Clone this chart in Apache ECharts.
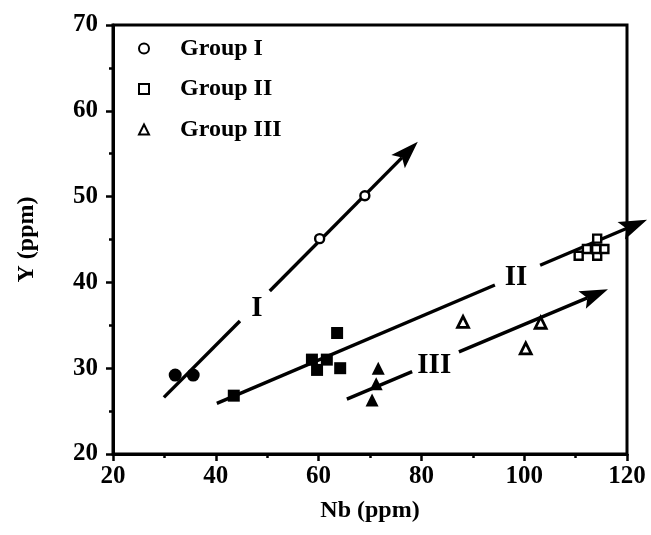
<!DOCTYPE html>
<html>
<head>
<meta charset="utf-8">
<script src="https://cdn.jsdelivr.net/npm/echarts@6/dist/echarts.min.js"></script>
<style>html,body{margin:0;padding:0;background:#fff}#c{width:651px;height:535px}</style>
</head>
<body>
<div id="c"></div>
<script>
// ---- data ----
const xTicks = [20, 40, 60, 80, 100, 120];
const yTicks = [20, 30, 40, 50, 60, 70];

const groupIOpenX = [60.2, 69.0];
const groupIOpenY = [45.1, 50.1];
const groupIFilledX = [32.1, 35.6];
const groupIFilledY = [29.2, 29.2];

const groupIIOpenX = [110.6, 112.2, 114.2, 114.2, 115.6, 114.0];
const groupIIOpenY = [43.1, 43.9, 45.1, 43.1, 43.9, 43.9];
const groupIIFilledX = [43.5, 58.7, 59.7, 61.6, 64.2, 63.6];
const groupIIFilledY = [26.8, 31.0, 29.8, 31.0, 30.0, 34.1];

const groupIIIOpenX = [88.1, 100.3, 103.2];
const groupIIIOpenY = [35.4, 32.3, 35.3];
const groupIIIFilledX = [71.6, 71.2, 70.4];
const groupIIIFilledY = [30.0, 28.2, 26.3];

// trend arrows: [x0,y0, x1,y1 (end of first segment), x2,y2 (start of second segment), x3,y3 (arrow tip)]
const trendI   = [29.9, 26.6, 44.7, 35.5, 50.5, 39.0, 79.3, 56.4];
const trendII  = [40.2, 25.9, 94.3, 39.7, 103.1, 42.0, 123.9, 47.3];
const trendIII = [65.5, 26.4, 78.2, 29.6, 87.3, 31.9, 116.3, 39.2];

const numeralText = ['I', 'II', 'III'];
const numeralX = [48.0, 98.4, 82.5];
const numeralY = [37.0, 40.6, 30.3];

// ---- chart ----
const FONT = 'Liberation Serif';
const zip = (xs, ys) => xs.map((x, i) => [x, ys[i]]);

const chart = echarts.init(document.getElementById('c'), null, {renderer: 'canvas'});

function renderTrend(params, api) {
  const p = [];
  for (let i = 0; i < 4; i++) p.push(api.coord([api.value(2 * i), api.value(2 * i + 1)]));
  const tip = p[3];
  const dx = tip[0] - p[2][0], dy = tip[1] - p[2][1];
  const len = Math.hypot(dx, dy);
  const ux = dx / len, uy = dy / len;
  const L = 28, W = 9.5;
  const base = [tip[0] - ux * L, tip[1] - uy * L];
  const notch = [tip[0] - ux * L * 0.8, tip[1] - uy * L * 0.8];
  const left = [base[0] - uy * W, base[1] + ux * W];
  const right = [base[0] + uy * W, base[1] - ux * W];
  const st = {stroke: '#000', lineWidth: 3.4};
  return {
    type: 'group',
    children: [
      {type: 'line', shape: {x1: p[0][0], y1: p[0][1], x2: p[1][0], y2: p[1][1]}, style: st},
      {type: 'line', shape: {x1: p[2][0], y1: p[2][1], x2: notch[0], y2: notch[1]}, style: st},
      {type: 'polygon', shape: {points: [tip, left, notch, right]}, style: {fill: '#000'}}
    ]
  };
}

const openStyle = {color: '#fff', borderColor: '#000', borderWidth: 2.4, opacity: 1};
const filledStyle = {color: '#000', borderColor: '#000', borderWidth: 0, opacity: 1};

const option = {
  animation: false,
  backgroundColor: '#fff',
  textStyle: {fontFamily: FONT, color: '#000'},
  grid: {left: 113, right: 24, top: 25, bottom: 81, show: true, borderColor: '#000', borderWidth: 3, backgroundColor: 'transparent'},
  legend: {
    orient: 'vertical', left: 138, top: 36, padding: 0,
    itemWidth: 10, itemHeight: 10, itemGap: 15.5,
    data: ['Group I', 'Group II', 'Group III'],
    textStyle: {fontFamily: FONT, fontSize: 24, fontWeight: 'bold', color: '#000', lineHeight: 25, padding: [0, 0, 0, 26]},
    selectedMode: false
  },
  xAxis: {
    type: 'value', min: xTicks[0], max: xTicks[xTicks.length - 1], interval: 20,
    name: 'Nb (ppm)', nameLocation: 'middle', nameGap: 45,
    nameTextStyle: {fontFamily: FONT, fontSize: 24, fontWeight: 'bold', color: '#000'},
    axisLine: {lineStyle: {color: '#000', width: 3}},
    axisTick: {length: 7, lineStyle: {color: '#000', width: 2.5}},
    minorTick: {show: true, splitNumber: 2, length: 4, lineStyle: {color: '#000', width: 2.5}},
    axisLabel: {fontFamily: FONT, fontSize: 25, fontWeight: 'bold', color: '#000', margin: 10},
    splitLine: {show: false}
  },
  yAxis: {
    type: 'value', min: yTicks[0], max: yTicks[yTicks.length - 1], interval: 10,
    name: 'Y (ppm)', nameLocation: 'middle', nameGap: 74,
    nameTextStyle: {fontFamily: FONT, fontSize: 24, fontWeight: 'bold', color: '#000'},
    axisLine: {lineStyle: {color: '#000', width: 3}},
    axisTick: {length: 7, lineStyle: {color: '#000', width: 2.5}},
    minorTick: {show: true, splitNumber: 2, length: 4, lineStyle: {color: '#000', width: 2.5}},
    axisLabel: {fontFamily: FONT, fontSize: 25, fontWeight: 'bold', color: '#000', margin: 15},
    splitLine: {show: false}
  },
  series: [
    {
      name: 'trends', type: 'custom', renderItem: renderTrend, silent: true, z: 1,
      encode: {x: [0, 2, 4, 6], y: [1, 3, 5, 7]},
      data: [trendI, trendII, trendIII]
    },
    {
      name: 'numerals', type: 'scatter', silent: true, z: 1,
      symbolSize: 1, itemStyle: {color: 'rgba(0,0,0,0)', opacity: 1},
      data: numeralText.map((t, i) => ({name: t, value: [numeralX[i], numeralY[i]]})),
      label: {show: true, position: 'inside', formatter: '{b}', fontFamily: FONT, fontSize: 29, fontWeight: 'bold', color: '#000', opacity: 1}
    },
    {name: 'Group I filled', type: 'scatter', symbol: 'circle', symbolSize: 13, itemStyle: filledStyle, z: 3, data: zip(groupIFilledX, groupIFilledY)},
    {name: 'Group II filled', type: 'scatter', symbol: 'rect', symbolSize: 12, itemStyle: filledStyle, z: 3, data: zip(groupIIFilledX, groupIIFilledY)},
    {name: 'Group III filled', type: 'scatter', symbol: 'triangle', symbolSize: 13, itemStyle: filledStyle, z: 3, data: zip(groupIIIFilledX, groupIIIFilledY)},
    {name: 'Group I', type: 'scatter', symbol: 'circle', symbolSize: 9, itemStyle: openStyle, z: 4, data: zip(groupIOpenX, groupIOpenY)},
    {name: 'Group II', type: 'scatter', symbol: 'rect', symbolSize: 8, itemStyle: openStyle, z: 4, data: zip(groupIIOpenX, groupIIOpenY)},
    {name: 'Group III', type: 'scatter', symbol: 'triangle', symbolSize: 11, itemStyle: {color: '#fff', borderColor: '#000', borderWidth: 2.8, opacity: 1}, z: 4, data: zip(groupIIIOpenX, groupIIIOpenY)}
  ]
};
chart.setOption(option);
</script>
</body>
</html>
